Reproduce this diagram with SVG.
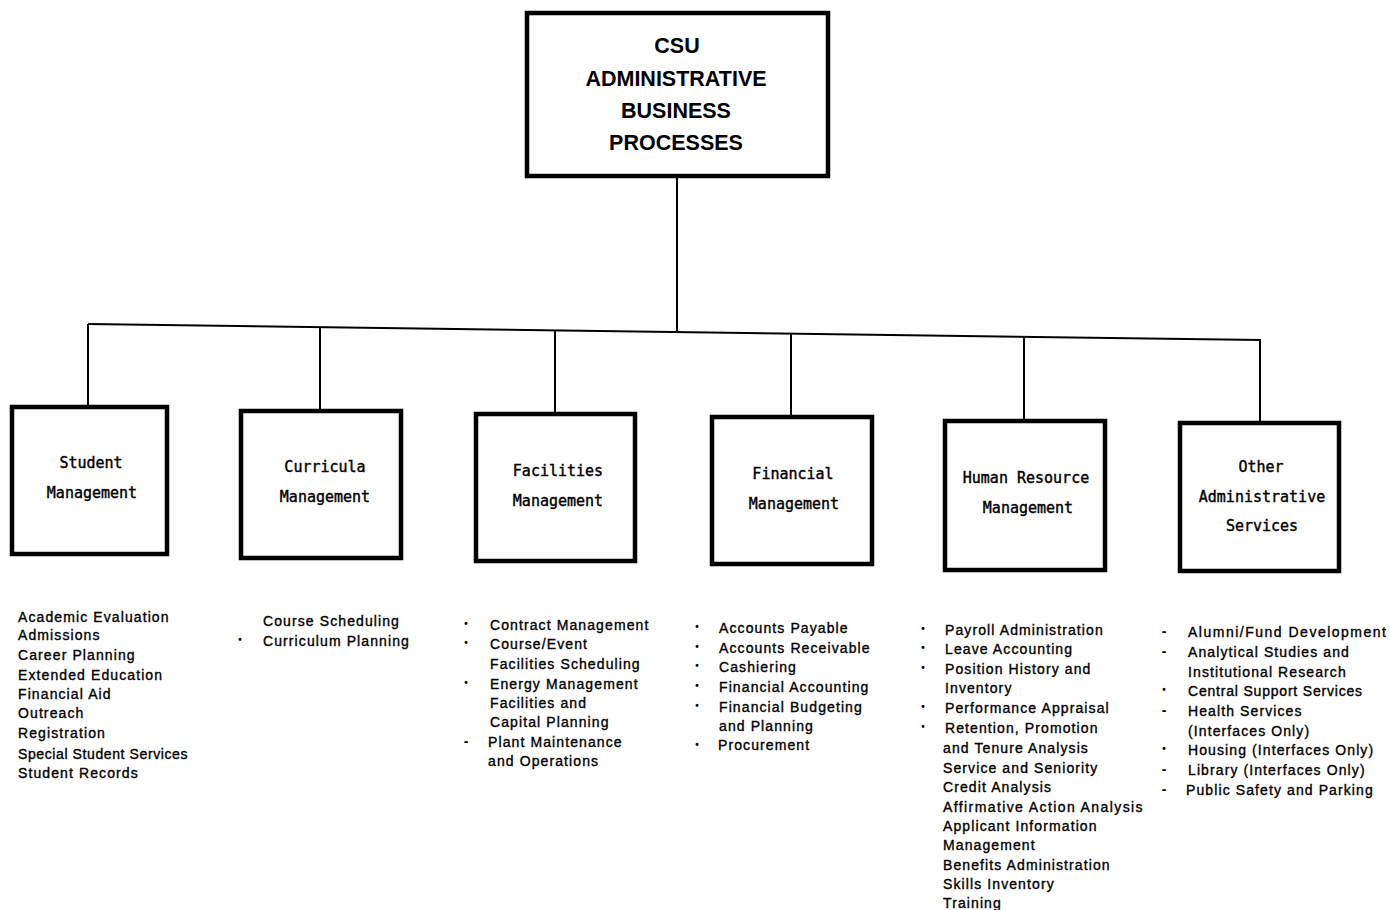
<svg xmlns="http://www.w3.org/2000/svg" width="1390" height="910" viewBox="0 0 1390 910">
<style>
.box{fill:#fff;stroke:#000;stroke-width:4.5}
.con{fill:none;stroke:#000;stroke-width:2}
.title{font-family:"Liberation Sans",Arial,sans-serif;font-weight:bold;font-size:21.5px;text-anchor:middle;fill:#000}
.lbl{font-family:"DejaVu Sans Mono","Liberation Mono",monospace;font-size:15px;text-anchor:middle;fill:#000;stroke:#000;stroke-width:0.4}
.lst{font-family:"Liberation Sans",Arial,sans-serif;font-size:14px;letter-spacing:1.1px;fill:#000;stroke:#000;stroke-width:0.35}
.bul{font-family:"Liberation Sans",Arial,sans-serif;font-size:10px;font-weight:bold;fill:#000;text-anchor:middle}
.dash{font-family:"Liberation Sans",Arial,sans-serif;font-size:14px;font-weight:bold;fill:#000;text-anchor:middle}
</style>
<rect width="1390" height="910" fill="#fff"/>
<g id="connectors">
<line class="con" x1="677" y1="178" x2="677" y2="333"/>
<line class="con" x1="88" y1="324" x2="1261" y2="340"/>
<line class="con" x1="88" y1="324" x2="88" y2="405"/>
<line class="con" x1="320" y1="327" x2="320" y2="409"/>
<line class="con" x1="555" y1="331" x2="555" y2="412"/>
<line class="con" x1="791" y1="334" x2="791" y2="415"/>
<line class="con" x1="1024" y1="337" x2="1024" y2="419"/>
<line class="con" x1="1260" y1="340" x2="1260" y2="421"/>
</g>
<g id="root">
<rect class="box" x="527" y="13" width="301" height="163"/>
<text class="title" x="677" y="53">CSU</text>
<text class="title" x="676" y="86">ADMINISTRATIVE</text>
<text class="title" x="676" y="118">BUSINESS</text>
<text class="title" x="676" y="150">PROCESSES</text>
</g>
<g id="student">
<rect class="box" x="12" y="407" width="155" height="147"/>
<text class="lbl" x="91" y="468">Student</text>
<text class="lbl" x="92" y="498">Management</text>
<g class="lst">
<text x="18" y="622">Academic Evaluation</text>
<text x="18" y="640">Admissions</text>
<text x="18" y="660">Career Planning</text>
<text x="18" y="680">Extended Education</text>
<text x="18" y="699">Financial Aid</text>
<text x="18" y="718">Outreach</text>
<text x="18" y="738">Registration</text>
<text x="18" y="759" letter-spacing="0.6">Special Student Services</text>
<text x="18" y="778">Student Records</text>
</g>
</g>
<g id="curricula">
<rect class="box" x="241" y="411" width="160" height="147"/>
<text class="lbl" x="325" y="472">Curricula</text>
<text class="lbl" x="325" y="502">Management</text>
<g class="lst">
<text x="263" y="626">Course Scheduling</text>
<text x="263" y="646">Curriculum Planning</text>
</g>
<text class="bul" x="240" y="643">•</text>
</g>
<g id="facilities">
<rect class="box" x="476" y="414" width="159" height="147"/>
<text class="lbl" x="558" y="476">Facilities</text>
<text class="lbl" x="558" y="506">Management</text>
<g class="lst">
<text x="490" y="630">Contract Management</text>
<text x="490" y="649">Course/Event</text>
<text x="490" y="669">Facilities Scheduling</text>
<text x="490" y="689">Energy Management</text>
<text x="490" y="708">Facilities and</text>
<text x="490" y="727">Capital Planning</text>
<text x="488" y="747">Plant Maintenance</text>
<text x="488" y="766">and Operations</text>
</g>
<text class="bul" x="466" y="627">•</text>
<text class="bul" x="466" y="646">•</text>
<text class="bul" x="466" y="686">•</text>
<text class="dash" x="466" y="746">-</text>
</g>
<g id="financial">
<rect class="box" x="712" y="417" width="160" height="147"/>
<text class="lbl" x="793" y="479">Financial</text>
<text class="lbl" x="794" y="509">Management</text>
<g class="lst">
<text x="719" y="633">Accounts Payable</text>
<text x="719" y="653">Accounts Receivable</text>
<text x="719" y="672">Cashiering</text>
<text x="719" y="692">Financial Accounting</text>
<text x="719" y="712">Financial Budgeting</text>
<text x="719" y="731">and Planning</text>
<text x="718" y="750">Procurement</text>
</g>
<text class="bul" x="697" y="630">•</text>
<text class="bul" x="697" y="650">•</text>
<text class="bul" x="697" y="669">•</text>
<text class="bul" x="697" y="689">•</text>
<text class="bul" x="697" y="709">•</text>
<text class="bul" x="697" y="748">•</text>
</g>
<g id="human-resource">
<rect class="box" x="945" y="421" width="160" height="149"/>
<text class="lbl" x="1026" y="483">Human Resource</text>
<text class="lbl" x="1028" y="513">Management</text>
<g class="lst">
<text x="945" y="635">Payroll Administration</text>
<text x="945" y="654">Leave Accounting</text>
<text x="945" y="674">Position History and</text>
<text x="945" y="693">Inventory</text>
<text x="945" y="713">Performance Appraisal</text>
<text x="945" y="733">Retention, Promotion</text>
<text x="943" y="753">and Tenure Analysis</text>
<text x="943" y="773">Service and Seniority</text>
<text x="943" y="792">Credit Analysis</text>
<text x="943" y="812" letter-spacing="1.4">Affirmative Action Analysis</text>
<text x="943" y="831">Applicant Information</text>
<text x="943" y="850">Management</text>
<text x="943" y="870">Benefits Administration</text>
<text x="943" y="889">Skills Inventory</text>
<text x="943" y="908">Training</text>
</g>
<text class="bul" x="923" y="632">•</text>
<text class="bul" x="923" y="651">•</text>
<text class="bul" x="923" y="671">•</text>
<text class="bul" x="923" y="710">•</text>
<text class="bul" x="923" y="730">•</text>
</g>
<g id="other">
<rect class="box" x="1180" y="423" width="159" height="148"/>
<text class="lbl" x="1261" y="472">Other</text>
<text class="lbl" x="1262" y="502">Administrative</text>
<text class="lbl" x="1262" y="531">Services</text>
<g class="lst">
<text x="1188" y="637" letter-spacing="1.5">Alumni/Fund Development</text>
<text x="1188" y="657">Analytical Studies and</text>
<text x="1188" y="677">Institutional Research</text>
<text x="1188" y="696" letter-spacing="0.8">Central Support Services</text>
<text x="1188" y="716">Health Services</text>
<text x="1188" y="736">(Interfaces Only)</text>
<text x="1188" y="755">Housing (Interfaces Only)</text>
<text x="1188" y="775">Library (Interfaces Only)</text>
<text x="1186" y="795">Public Safety and Parking</text>
</g>
<text class="dash" x="1164" y="636">-</text>
<text class="dash" x="1164" y="656">-</text>
<text class="bul" x="1164" y="693">•</text>
<text class="dash" x="1164" y="715">-</text>
<text class="bul" x="1164" y="752">•</text>
<text class="dash" x="1164" y="774">-</text>
<text class="dash" x="1164" y="794">-</text>
</g>
</svg>
